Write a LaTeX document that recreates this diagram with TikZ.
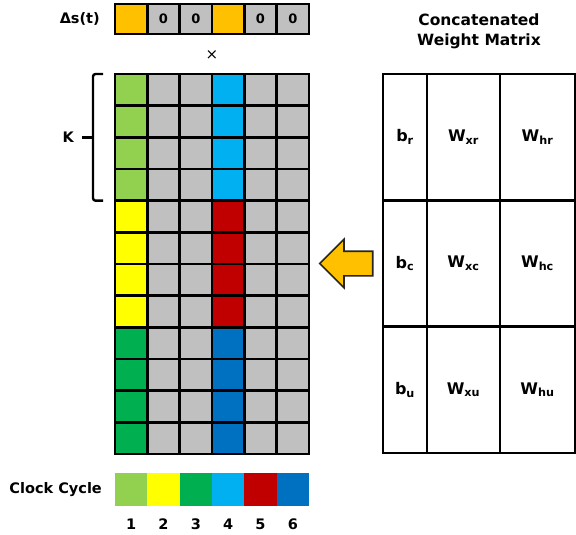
\documentclass[tikz,border=0pt]{standalone}
\usepackage{fontspec}
\setmainfont{DejaVu Sans}
\usetikzlibrary{positioning, shapes.arrows}

\definecolor{cellgray}{HTML}{C0C0C0}
\definecolor{deltaorange}{HTML}{FFC000}
\definecolor{cycone}{HTML}{92D050}
\definecolor{cyctwo}{HTML}{FFFF00}
\definecolor{cycthree}{HTML}{00B050}
\definecolor{cycfour}{HTML}{00B0F0}
\definecolor{cycfive}{HTML}{C00000}
\definecolor{cycsix}{HTML}{0070C0}

\tikzset{
  cell/.style={draw, line width=2.6pt, minimum width=32.33pt, minimum height=31.67pt,
    inner sep=0pt, outer sep=0pt, font=\bfseries\fontsize{13}{15}\selectfont},
  wcell/.style={draw, line width=2.6pt, minimum height=126.33pt, inner sep=0pt,
    outer sep=0pt, font=\bfseries\fontsize{16}{18}\selectfont},
  lbl/.style={font=\bfseries\fontsize{14.5}{17}\selectfont, inner sep=0pt},
  cyc/.style={minimum width=32.33pt, minimum height=33pt, inner sep=0pt, outer sep=0pt}
}

\begin{document}
\begin{tikzpicture}[x=1pt, y=-1pt]
    \useasboundingbox (0,0) rectangle (576,535);

    % Delta vector on top
    \foreach \c/\f/\t in {0/deltaorange/, 1/cellgray/0, 2/cellgray/0,
                          3/deltaorange/, 4/cellgray/0, 5/cellgray/0}
      \node[cell, minimum height=30pt, fill=\f] (v-\c) at ({131.17+32.33*\c}, 19) {\t};
    \node[lbl, anchor=east] (delta) at (100,19) {Δs(t)};
    \node[inner sep=0pt, font=\fontsize{15}{17}\selectfont] (times) at (212,55) {×};

    % Input grid, grey first
    \foreach \r in {0,...,11}
      \foreach \c in {0,...,5}
        \node[cell, fill=cellgray] (g-\r-\c) at ({131.17+32.33*\c}, {89.83+31.67*\r}) {};

    % Coloured columns per clock cycle
    \foreach \r/\fa/\fb in {0/cycone/cycfour, 1/cycone/cycfour, 2/cycone/cycfour, 3/cycone/cycfour,
                            4/cyctwo/cycfive, 5/cyctwo/cycfive, 6/cyctwo/cycfive, 7/cyctwo/cycfive,
                            8/cycthree/cycsix, 9/cycthree/cycsix, 10/cycthree/cycsix, 11/cycthree/cycsix} {
      \node[cell, fill=\fa] at (g-\r-0) {};
      \node[cell, fill=\fb] at (g-\r-3) {};
    }

    % Brace for K
    \coordinate (btop) at ([xshift=-12pt]g-0-0.north west);
    \coordinate (bbot) at ([xshift=-12pt]g-3-0.south west);
    \coordinate (bmid) at ([xshift=-33pt]g-1-0.south west);
    \draw[line width=2.4pt, rounded corners=2.5pt]
      (btop) -- ++(-10,0) |- (bbot);
    \draw[line width=2.4pt] (bmid) -- ++(10,0);
    \node[lbl, anchor=east] (k) at ([xshift=-8pt]bmid) {K};

    % Concatenated weight matrix
    \node[lbl, align=center, font=\bfseries\fontsize{15.5}{20}\selectfont] (wtitle) at (479,31)
      {Concatenated\\Weight Matrix};
    \foreach \r/\g in {0/r, 1/c, 2/u} {
      \node[wcell, minimum width=44pt] (wm-\r-b) at (405, {137.17+126.33*\r}) {b\textsubscript{\g}};
      \node[wcell, minimum width=73pt] (wm-\r-x) at (463.5, {137.17+126.33*\r}) {W\textsubscript{x\g}};
      \node[wcell, minimum width=75pt] (wm-\r-h) at (537.5, {137.17+126.33*\r}) {W\textsubscript{h\g}};
    }

    % Loading arrow
    \node[single arrow, shape border rotate=180, fill=deltaorange, draw=black!85,
          line width=1.6pt, minimum height=53pt, minimum width=47pt,
          single arrow head extend=12pt, inner sep=11.5pt, anchor=tail] (load) at (373.5,263.5) {};

    % Clock cycle legend
    \node[lbl, anchor=east] (clk) at (102,489.5) {Clock Cycle};
    \foreach \c/\f in {0/cycone, 1/cyctwo, 2/cycthree, 3/cycfour, 4/cycfive, 5/cycsix} {
      \node[cyc, fill=\f] (ck-\c) at ({131.17+32.33*\c}, 489.5) {};
      \node[lbl] (n-\c) at ({131.17+32.33*\c}, 524) {\the\numexpr\c+1\relax};
    }

\end{tikzpicture}
\end{document}
